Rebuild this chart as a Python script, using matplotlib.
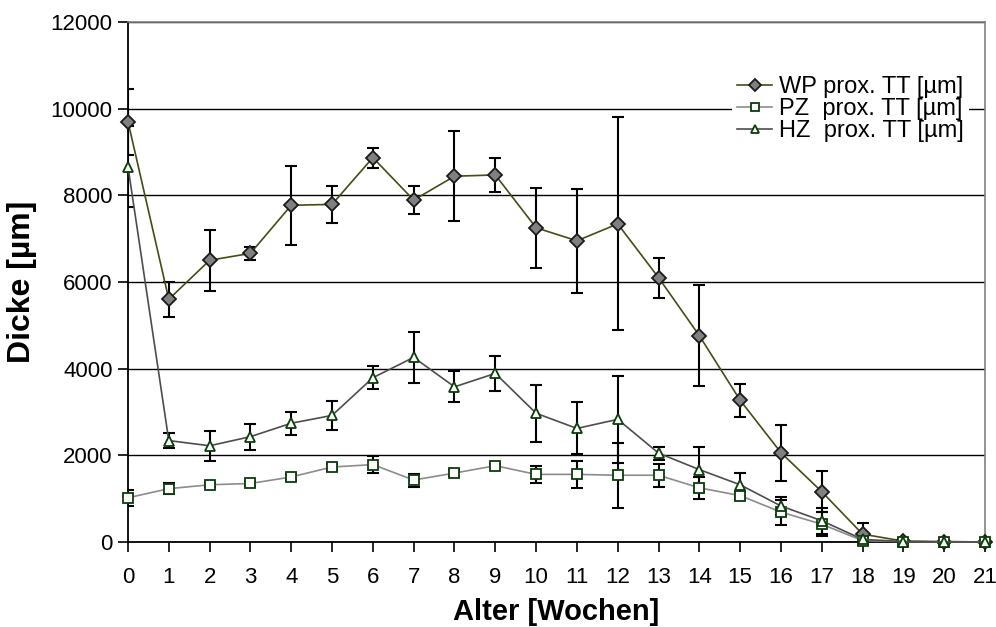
import numpy as np
import matplotlib
matplotlib.use("Agg")
from matplotlib import pyplot as plt

plt.rcParams["font.family"] = ["Liberation Sans", "DejaVu Sans"]

weeks = list(range(22))

wp = [9700, 5600, 6500, 6660, 7770, 7790, 8870, 7890, 8440, 8470, 7250,
      6950, 7340, 6100, 4760, 3270, 2060, 1160, 180, 20, 10, 0]
wp_err = [760, 410, 700, 150, 915, 430, 230, 330, 1040, 390, 920,
          1200, 2460, 460, 1170, 380, 650, 470, 250, 20, 10, 0]

pz = [1020, 1230, 1320, 1350, 1500, 1730, 1785, 1430, 1590, 1760, 1560,
      1560, 1540, 1540, 1250, 1070, 690, 410, 30, 10, 0, 0]
pz_err = [190, 130, 50, 50, 80, 80, 190, 150, 70, 40, 190,
          320, 750, 260, 250, 80, 290, 280, 30, 10, 0, 0]

hz = [8660, 2340, 2220, 2430, 2740, 2920, 3790, 4260, 3580, 3890, 2970,
      2620, 2830, 2050, 1670, 1320, 830, 490, 60, 10, 0, 0]
hz_err = [940, 170, 350, 300, 270, 330, 270, 590, 360, 400, 660,
          600, 1000, 150, 520, 270, 200, 300, 60, 10, 0, 0]


def plot_series(ax, y, err, label, line_color, marker, face, edge, ms):
    ax.errorbar(weeks, y, yerr=err, fmt="none", ecolor="black",
                elinewidth=1.5, capsize=4, capthick=1.5, zorder=3)
    ax.plot(weeks, y, color=line_color, lw=1.2, marker=marker,
            markerfacecolor=face, markeredgecolor=edge, markeredgewidth=1.3,
            markersize=ms, label=label, zorder=4, clip_on=False)


fig = plt.figure(figsize=(9.96, 6.27), dpi=100)
ax = fig.add_axes([0.1285, 0.1356, 0.8605, 0.8294])

plot_series(ax, wp, wp_err, "WP prox. TT [µm]", "#4a4a14", "D", "#808080", "#1a1a1a", 7.5)
plot_series(ax, pz, pz_err, "PZ  prox. TT [µm]", "#8c8c8c", "s", "white", "#0b3d0b", 7.5)
plot_series(ax, hz, hz_err, "HZ  prox. TT [µm]", "#4d4d4d", "^", "white", "#0b3d0b", 7.5)

ax.set_xlim(0, 21)
ax.set_ylim(0, 12000)
ax.set_xticks(weeks)
ax.set_yticks(range(0, 12001, 2000))
ax.yaxis.grid(True, color="black", lw=1.0, zorder=0)
ax.set_axisbelow(True)

for side in ["top", "right"]:
    ax.spines[side].set_color("#808080")
    ax.spines[side].set_linewidth(1.2)
for side in ["left", "bottom"]:
    ax.spines[side].set_color("black")
    ax.spines[side].set_linewidth(1.3)

ax.tick_params(axis="both", direction="out", length=7, width=1.2,
               labelsize=16, colors="black")
ax.tick_params(axis="x", pad=11)
ax.tick_params(axis="y", pad=4)

ax.set_xlabel("Alter [Wochen]", fontsize=21, fontweight="bold", labelpad=7)
ax.set_ylabel("Dicke [µm]", fontsize=23, fontweight="bold", labelpad=10)

leg = ax.legend(loc="upper right", bbox_to_anchor=(0.995, 0.927), frameon=True,
                fontsize=17, handlelength=1.5, handletextpad=0.3,
                labelspacing=0.0, borderpad=0.2, markerscale=0.75)
leg.get_frame().set_edgecolor("none")
leg.get_frame().set_facecolor("white")
leg.get_frame().set_alpha(1)

fig.savefig("out.png", dpi=100)
